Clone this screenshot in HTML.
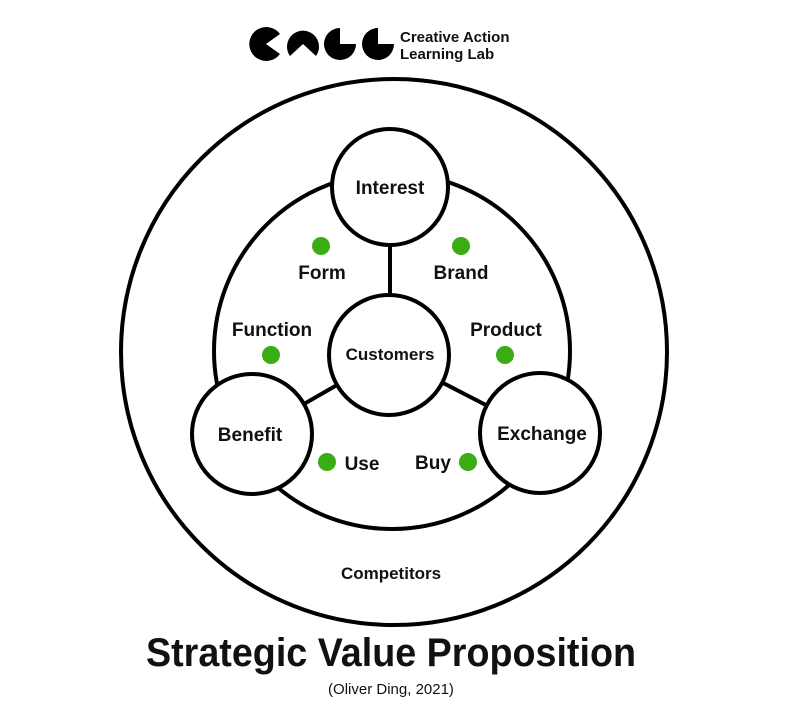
<!DOCTYPE html>
<html><head><meta charset="utf-8"><style>
body{margin:0;background:#fff;}
svg{display:block}
text{font-family:"Liberation Sans",sans-serif;font-weight:bold;fill:#111;}
</style></head><body>
<svg width="787" height="708" viewBox="0 0 787 708" xmlns="http://www.w3.org/2000/svg">
<!-- logo -->
<g fill="#000">
<path d="M266 44 L280 34 A17 17 0 1 0 280 54 Z"/>
<path d="M290 56 A16 16 0 1 1 316 56 L303 44 Z"/>
<path d="M340 28 A16 16 0 1 0 356 44 L340 44 Z"/>
<path d="M378 28 A16 16 0 1 0 394 44 L378 44 Z"/>
</g>
<text x="400" y="42" font-size="15">Creative Action</text>
<text x="400" y="59" font-size="15">Learning Lab</text>
<g fill="none" stroke="#000" stroke-width="4">
<circle cx="394" cy="352" r="273"/>
<circle cx="392" cy="351" r="178"/>
<line x1="390" y1="240" x2="390" y2="300"/>
<line x1="252" y1="434" x2="389" y2="355"/>
<line x1="540" y1="433" x2="389" y2="355"/>
</g>
<g fill="#fff" stroke="#000" stroke-width="4">
<circle cx="390" cy="187" r="58"/>
<circle cx="389" cy="355" r="60"/>
<circle cx="252" cy="434" r="60"/>
<circle cx="540" cy="433" r="60"/>
</g>
<g fill="#3aac14">
<circle cx="321" cy="246" r="9"/><circle cx="461" cy="246" r="9"/>
<circle cx="271" cy="355" r="9"/><circle cx="505" cy="355" r="9"/>
<circle cx="327" cy="462" r="9"/><circle cx="468" cy="462" r="9"/>
</g>
<g font-size="19" text-anchor="middle">
<text x="390" y="194">Interest</text>
<text x="390" y="360" font-size="17">Customers</text>
<text x="250" y="441">Benefit</text>
<text x="542" y="440">Exchange</text>
<text x="322" y="279">Form</text>
<text x="461" y="279">Brand</text>
<text x="272" y="336">Function</text>
<text x="506" y="336">Product</text>
<text x="362" y="470">Use</text>
<text x="433" y="469">Buy</text>
<text x="391" y="579" font-size="17">Competitors</text>
</g>
<text x="391" y="666" font-size="40" text-anchor="middle" textLength="490" lengthAdjust="spacingAndGlyphs">Strategic Value Proposition</text>
<text x="391" y="694" font-size="15" text-anchor="middle" style="font-weight:normal">(Oliver Ding, 2021)</text>
</svg>
</body></html>
